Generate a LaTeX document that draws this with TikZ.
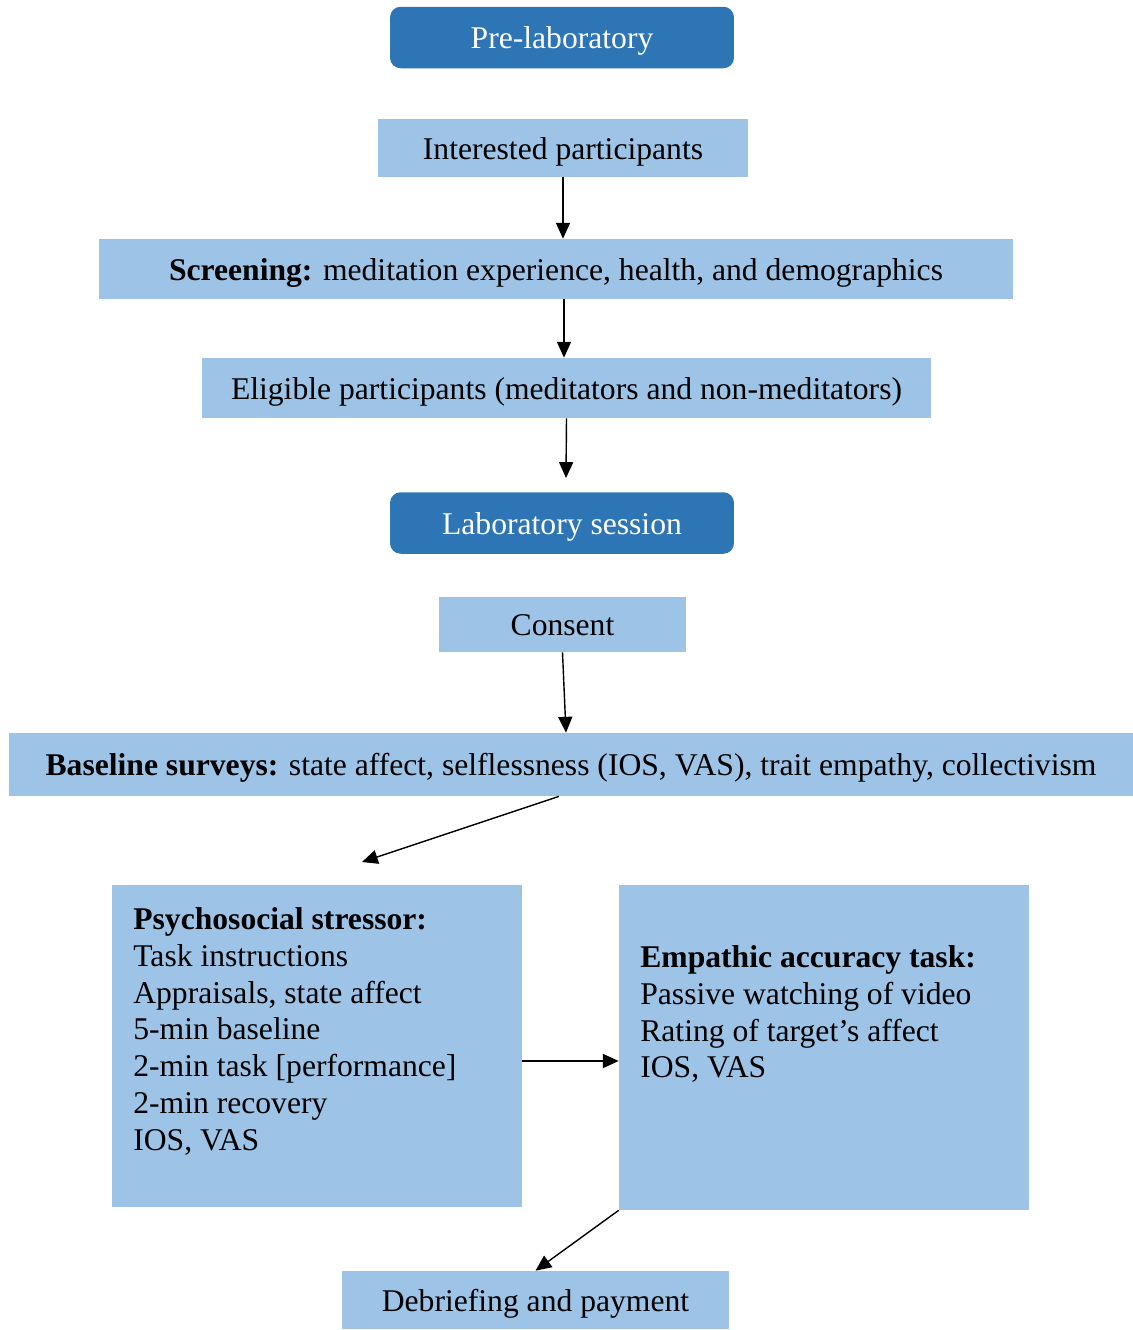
\documentclass[tikz,border=0pt]{standalone}
\usepackage{fontspec}
\setmainfont{Liberation Serif}
\usetikzlibrary{arrows.meta}
\definecolor{darkblue}{HTML}{2E75B6}
\definecolor{lightblue}{HTML}{9DC3E6}
\begin{document}
\begin{tikzpicture}[x=0.02cm,y=-0.02cm,
    font=\fontsize{18}{21}\selectfont,
    stage/.style={fill=darkblue,text=white,rounded corners=6pt,minimum width=6.88cm,minimum height=1.23cm,text height=13pt,text depth=0pt},
    box/.style={fill=lightblue,minimum height=1.2cm,text height=13pt,text depth=0pt},
    arr/.style={line width=0.8pt,-{Triangle[length=9pt,width=8pt]}}]
  \useasboundingbox (0,0) rectangle (1133,1330);
  % pre-laboratory part
  \node[stage] (pre) at (562,37.5) {Pre-laboratory};
  \node[box,minimum width=7.4cm,minimum height=1.16cm] (int) at (563,148) {Interested participants};
  \node[box,minimum width=18.28cm] (scr) at (556,269) {\textbf{Screening:} meditation experience, health, and demographics};
  \node[box,minimum width=14.58cm] (elig) at (566.5,388) {Eligible participants (meditators and non-meditators)};
  \coordinate (labtop) at (566,478);
  % laboratory session
  \node[stage] (lab) at (562,523) {Laboratory session};
  \node[box,minimum width=4.94cm,minimum height=1.1cm] (cons) at (562.5,624.5) {Consent};
  \node[box,minimum width=22.48cm,minimum height=1.26cm] (base) at (571,764.5) {\textbf{Baseline surveys:} state affect, selflessness (IOS, VAS), trait empathy, collectivism};
  \coordinate (split) at (362,862);
  \node[box,minimum width=8.2cm,minimum height=6.44cm] (psy) at (317,1046) {};
  \node[box,minimum width=8.2cm,minimum height=6.5cm] (emp) at (824,1047.5) {};
  \node[inner sep=0,anchor=north west,align=left] (psytext) at (133,907) {\textbf{Psychosocial stressor:}\\Task instructions\\Appraisals, state affect\\5-min baseline\\2-min task [performance]\\2-min recovery\\IOS, VAS};
  \node[inner sep=0,anchor=north west,align=left] (emptext) at (640,945) {\textbf{Empathic accuracy task:}\\Passive watching of video\\Rating of target's affect\\IOS, VAS};
  \node[box,minimum width=7.74cm,minimum height=1.16cm] (deb) at (535.5,1300) {Debriefing and payment};
  % arrows
  \draw[arr] (int.south) -- (int.south |- scr.north);
  \draw[arr] ([xshift=0.16cm]scr.south) -- ([xshift=0.16cm]scr.south |- elig.north);
  \draw[arr] (elig.south) -- (labtop);
  \draw[arr] (cons.south) -- ([xshift=-0.1cm]base.north);
  \draw[arr] ([xshift=-0.24cm]base.south) -- (split);
  \draw[arr] ([yshift=-0.3cm]psy.east) -- ([yshift=-0.3cm]psy.east -| emp.west);
  \draw[arr] (emp.south west) -- (deb.north);
\end{tikzpicture}
\end{document}
